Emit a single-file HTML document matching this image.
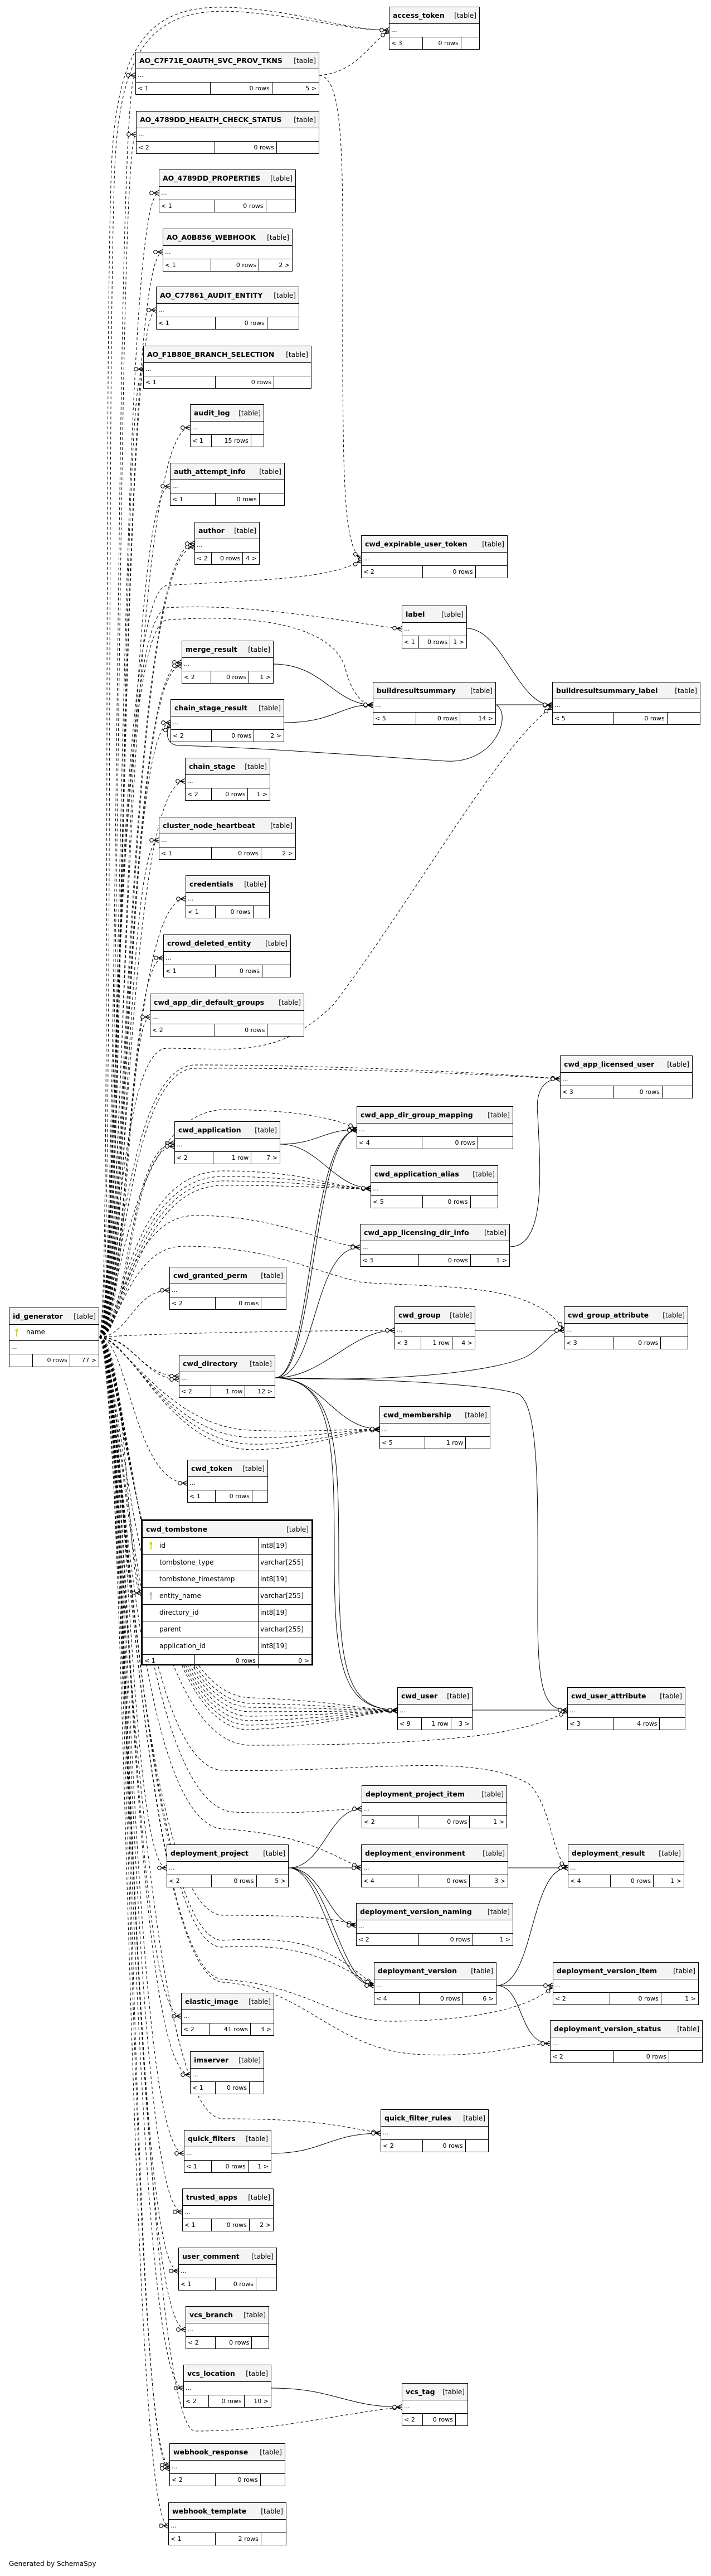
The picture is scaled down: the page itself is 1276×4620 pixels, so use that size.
<!DOCTYPE html>
<html><head><meta charset="utf-8">
<style>
html,body{margin:0;padding:0;background:#fff}
body{width:1276px;height:4620px;position:relative;overflow:hidden;font-family:"DejaVu Sans","Liberation Sans",sans-serif;font-size:11px;color:#000}
svg{position:absolute;left:0;top:0}
.b{position:absolute;border:1px solid #000;background:#fff;box-sizing:border-box;height:77px;z-index:2}
.h{height:29px;background:#f4f4f4;border-bottom:1px solid #000;display:flex;justify-content:space-between;align-items:center;padding:0 5px 0 6px;white-space:nowrap;overflow:hidden}
.h b{font-weight:bold;flex-shrink:0;font-size:12.5px}
.h i{font-style:normal;margin-left:5px;font-size:12px;overflow:hidden}
.d{height:23px;border-bottom:1px solid #000;line-height:21px;padding-left:3px}
.f{height:22px;display:flex;line-height:21px;white-space:nowrap}
.f span{box-sizing:border-box;padding:0 4px 0 3px;border-right:1px solid #000;overflow:hidden}
.f span.r{text-align:right}
.f span:last-child{border-right:none;flex:1;text-align:right}
.t{position:absolute;border:3px solid #000;background:#fff;box-sizing:border-box;z-index:2}
.t .row{height:29px;border-bottom:1px solid #000;display:flex;line-height:28px;font-size:12px}
.t .row span:first-child{width:208px;border-right:1px solid #000;padding-left:30px;box-sizing:border-box;position:relative}
.t .row span:last-child{padding-left:3px}
.key{position:absolute;left:12px;top:7px;width:5px;height:14px}
</style></head><body>

<svg width="1276" height="4620" viewBox="0 0 1276 4620">
<defs>
<marker id="m" markerWidth="22" markerHeight="12" refX="20" refY="6" orient="auto" markerUnits="userSpaceOnUse">
<path d="M11,6 L20,1.5 M11,6 L20,6 M11,6 L20,10.5" stroke="#000" stroke-width="1.2" fill="none"/>
<circle cx="7" cy="6" r="3.3" fill="#fff" stroke="#000" stroke-width="1.1"/>
</marker>
</defs>
<g fill="none" stroke="#000" stroke-width="1" stroke-dasharray="5,4" marker-end="url(#m)">
<path d="M178,2398 C215,2398 205,135 243,135"/>
<path d="M178,2398 C218,2398 208,241 244,241"/>
<path d="M178,2398 C220,2398 210,346 285,346"/>
<path d="M178,2398 C222,2398 212,452 292,452"/>
<path d="M178,2398 C224,2398 214,556 280,556"/>
<path d="M178,2398 C226,2398 214,662 257,662"/>
<path d="M178,2398 C226,2398 218,767 341,767"/>
<path d="M178,2398 C226,2398 220,872 305,872"/>
<path d="M178,2398 C226,2398 222,975 349,975"/>
<path d="M178,2398 C230,2398 222,981 349,981"/>
<path d="M178,2398 C228,2398 222,1188 326,1188"/>
<path d="M178,2398 C232,2398 222,1194 326,1194"/>
<path d="M178,2398 C230,2398 222,1296 306,1296"/>
<path d="M178,2398 C230,2398 224,1401 332,1401"/>
<path d="M178,2398 C230,2398 224,1507 285,1507"/>
<path d="M178,2398 C230,2398 226,1612 333,1612"/>
<path d="M178,2398 C230,2398 226,1718 293,1718"/>
<path d="M178,2398 C230,2398 228,1824 269,1824"/>
<path d="M178,2398 C230,2398 230,2050 313,2050"/>
<path d="M178,2398 C235,2398 230,2056 313,2056"/>
<path d="M178,2398 C230,2398 240,2314 304,2314"/>
<path d="M178,2398 C240,2398 250,2468 321,2468"/>
<path d="M178,2398 C240,2400 260,2474 321,2474"/>
<path d="M178,2398 C230,2398 240,2660 336,2660"/>
<path d="M178,2398 C228,2398 230,2857 253,2857"/>
<path d="M178,2398 C228,2398 230,3350 299,3350"/>
<path d="M178,2398 C228,2398 232,3616 325,3616"/>
<path d="M178,2398 C228,2398 232,3721 341,3721"/>
<path d="M178,2398 C228,2398 232,3862 330,3862"/>
<path d="M178,2398 C228,2398 232,3967 327,3967"/>
<path d="M178,2398 C228,2398 232,4073 320,4073"/>
<path d="M178,2398 C228,2398 232,4178 333,4178"/>
<path d="M178,2398 C228,2398 232,4283 329,4283"/>
<path d="M178,2398 C228,2398 232,4421 304,4421"/>
<path d="M178,2398 C235,2398 232,4427 304,4427"/>
<path d="M178,2398 C225,2398 230,4530 302,4530"/>
<path d="M178,2398 C200,2398 185,700 200,300 C210,60 280,0 440,15 C560,25 620,54 698,54"/>
<path d="M178,2398 C205,2398 190,700 206,300 C216,70 285,8 440,22 C560,32 620,54 698,54"/>
<path d="M573,135 C640,130 660,80 698,56"/>
<path d="M573,135 C620,140 615,300 615,600 C615,900 620,980 648,1002"/>
<path d="M178,2398 C210,2398 200,1060 300,1050 C450,1040 600,1040 648,1004"/>
<path d="M178,2398 C210,2398 200,1100 300,1090 C450,1080 650,1120 721,1128"/>
<path d="M178,2398 C210,2398 200,1120 300,1112 C450,1100 600,1120 620,1200 C630,1240 650,1265 669,1265"/>
<path d="M178,2398 C210,2398 210,1880 300,1880 C420,1880 500,1900 600,1800 C750,1600 900,1330 991,1268"/>
<path d="M178,2398 C210,2398 220,1910 350,1910 C600,1910 900,1925 1005,1935"/>
<path d="M178,2398 C215,2398 225,1918 350,1916 C600,1914 900,1928 1005,1935"/>
<path d="M178,2398 C210,2398 220,2000 400,1990 C500,1990 600,2000 640,2026"/>
<path d="M178,2398 C215,2398 230,2100 400,2100 C550,2100 600,2130 665,2132"/>
<path d="M178,2398 C218,2398 235,2110 400,2110 C550,2110 600,2130 665,2132"/>
<path d="M178,2398 C220,2398 240,2118 400,2118 C550,2118 600,2132 665,2132"/>
<path d="M178,2398 C222,2398 245,2126 400,2126 C550,2126 600,2132 665,2132"/>
<path d="M178,2398 C210,2398 230,2180 350,2180 C500,2180 580,2230 646,2237"/>
<path d="M178,2398 C210,2398 230,2235 330,2235 C480,2235 560,2280 650,2300 C800,2310 960,2300 1012,2386"/>
<path d="M178,2398 C300,2390 600,2386 708,2386"/>
<path d="M178,2398 C220,2398 300,2560 450,2565 C550,2570 620,2562 681,2564"/>
<path d="M178,2398 C225,2398 300,2575 450,2578 C550,2580 620,2564 681,2564"/>
<path d="M178,2398 C230,2398 300,2585 450,2590 C550,2592 620,2566 681,2564"/>
<path d="M178,2398 C235,2398 300,2595 450,2600 C550,2600 620,2568 681,2564"/>
<path d="M178,2398 C215,2398 250,3040 450,3045 C600,3050 650,3066 713,3068"/>
<path d="M178,2398 C218,2398 250,3050 450,3055 C600,3058 650,3066 713,3068"/>
<path d="M178,2398 C220,2398 250,3060 450,3062 C600,3064 650,3067 713,3068"/>
<path d="M178,2398 C222,2398 250,3070 450,3070 C600,3070 650,3068 713,3068"/>
<path d="M178,2398 C224,2398 250,3080 450,3078 C600,3076 650,3069 713,3068"/>
<path d="M178,2398 C226,2398 250,3090 450,3086 C600,3082 650,3070 713,3068"/>
<path d="M178,2398 C228,2398 250,3100 450,3094 C600,3088 650,3071 713,3068"/>
<path d="M178,2398 C230,2398 250,3110 450,3102 C600,3094 650,3072 713,3068"/>
<path d="M178,2398 C215,2398 240,3130 450,3130 C800,3130 950,3110 1018,3068"/>
<path d="M178,2398 C215,2398 240,3170 400,3175 C650,3180 850,3140 950,3200 C990,3240 990,3330 1019,3350"/>
<path d="M178,2398 C215,2398 240,3240 420,3250 C550,3255 600,3244 649,3244"/>
<path d="M178,2398 C215,2398 230,3270 400,3280 C550,3290 600,3330 648,3350"/>
<path d="M178,2398 C215,2398 240,3430 400,3435 C550,3435 600,3440 639,3453"/>
<path d="M178,2398 C215,2398 250,3480 400,3480 C550,3470 600,3500 671,3561"/>
<path d="M178,2398 C218,2398 250,3500 400,3492 C550,3484 600,3520 671,3561"/>
<path d="M178,2398 C215,2398 250,3540 400,3550 C550,3560 600,3625 700,3625 C850,3625 960,3600 992,3561"/>
<path d="M178,2398 C215,2398 250,3545 400,3555 C550,3565 600,3680 760,3685 C880,3690 940,3665 987,3665"/>
<path d="M178,2398 C215,2398 240,3795 400,3800 C550,3800 600,3810 683,3826"/>
<path d="M178,2398 C215,2398 250,4355 350,4360 C500,4360 600,4330 721,4317"/>
</g>
<g fill="none" stroke="#000" stroke-width="1" marker-end="url(#m)">
<path d="M838,1127 C900,1127 930,1265 991,1265"/>
<path d="M491,1191 C580,1191 600,1264 669,1264"/>
<path d="M510,1296 C600,1296 610,1264 669,1264"/>
<path d="M890,1264 L991,1264"/>
<path d="M890,1264 C920,1280 890,1370 800,1365 C650,1355 450,1340 320,1337 C298,1336 296,1310 306,1300"/>
<path d="M503,2052 C570,2052 580,2026 640,2026"/>
<path d="M503,2052 C570,2052 600,2130 665,2131"/>
<path d="M494,2471 C560,2471 555,2030 640,2027"/>
<path d="M494,2471 C565,2471 562,2028 640,2027"/>
<path d="M494,2471 C570,2471 560,2237 646,2237"/>
<path d="M494,2471 C580,2471 630,2386 708,2386"/>
<path d="M494,2471 C700,2480 900,2460 950,2430 C980,2410 990,2386 1012,2386"/>
<path d="M494,2471 C580,2471 600,2562 681,2563"/>
<path d="M494,2471 C600,2471 600,2600 600,2800 C600,3000 620,3066 713,3067"/>
<path d="M494,2471 C605,2475 608,2600 608,2800 C608,3000 625,3066 713,3067"/>
<path d="M494,2471 C800,2475 900,2490 930,2500 C970,2520 965,2700 965,2900 C965,3040 980,3066 1018,3067"/>
<path d="M915,2236 C980,2236 970,2100 965,2000 C960,1950 980,1935 1005,1935"/>
<path d="M853,2386 L1012,2386"/>
<path d="M848,3067 L1018,3067"/>
<path d="M518,3350 C580,3350 590,3244 649,3244"/>
<path d="M518,3350 L648,3350"/>
<path d="M518,3350 C580,3350 590,3453 639,3453"/>
<path d="M518,3350 C580,3350 600,3561 671,3561"/>
<path d="M518,3350 C590,3350 610,3561 671,3561"/>
<path d="M912,3350 L1019,3350"/>
<path d="M891,3561 C960,3561 950,3350 1019,3350"/>
<path d="M891,3561 L992,3561"/>
<path d="M891,3561 C940,3561 930,3665 987,3665"/>
<path d="M487,3862 C580,3862 590,3826 683,3826"/>
<path d="M487,4283 C600,4283 620,4317 721,4317"/>
</g>
</svg>

<div class="b" style="left:16px;top:2345px;width:162px;height:107px">
<div class="h"><b>id_generator</b><i>[table]</i></div>
<div style="height:28px;border-bottom:1px solid #000;line-height:27px;padding-left:30px;position:relative;font-size:12px"><svg class="key" style="left:10px;top:7px" width="6" height="14"><circle cx="3" cy="3" r="2.6" fill="#d8d800"/><rect x="2" y="4" width="2" height="10" fill="#d8d800"/></svg>name</div>
<div class="d">...</div>
<div class="f"><span style="width:26%"></span><span class="r" style="width:42%">0 rows</span><span>77 &gt;</span></div>
</div>

<div class="t" style="left:253px;top:2725px;width:309px;height:262px">
<div class="h" style="height:29px"><b>cwd_tombstone</b><i>[table]</i></div>
<div class="row"><span><svg class="key" width="6" height="14"><circle cx="3" cy="3" r="2.6" fill="#d8d800"/><rect x="2" y="4" width="2" height="10" fill="#d8d800"/></svg>id</span><span>int8[19]</span></div>
<div class="row"><span>tombstone_type</span><span>varchar[255]</span></div>
<div class="row"><span>tombstone_timestamp</span><span>int8[19]</span></div>
<div class="row"><span><svg class="key" width="6" height="14"><circle cx="3" cy="3" r="2.6" fill="#bbb"/><rect x="2" y="4" width="2" height="10" fill="#bbb"/></svg>entity_name</span><span>varchar[255]</span></div>
<div class="row"><span>directory_id</span><span>int8[19]</span></div>
<div class="row"><span>parent</span><span>varchar[255]</span></div>
<div class="row"><span>application_id</span><span>int8[19]</span></div>
<div class="f" style="height:23px"><span style="width:94px">&lt; 1</span><span class="r" style="width:114px">0 rows</span><span>0 &gt;</span></div>
</div>

<div class="b" style="left:698px;top:12px;width:163px"><div class="h"><b>access_token</b><i>[table]</i></div><div class="d">...</div><div class="f"><span style="width:37%">&lt; 3</span><span class="r" style="width:43%">0 rows</span><span></span></div></div>
<div class="b" style="left:243px;top:93px;width:330px"><div class="h"><b>AO_C7F71E_OAUTH_SVC_PROV_TKNS</b><i>[table]</i></div><div class="d">...</div><div class="f"><span style="width:41%">&lt; 1</span><span class="r" style="width:33.6%">0 rows</span><span>5 &gt;</span></div></div>
<div class="b" style="left:244px;top:199px;width:329px"><div class="h"><b>AO_4789DD_HEALTH_CHECK_STATUS</b><i>[table]</i></div><div class="d">...</div><div class="f"><span style="width:43%">&lt; 2</span><span class="r" style="width:34%">0 rows</span><span></span></div></div>
<div class="b" style="left:285px;top:304px;width:246px"><div class="h"><b>AO_4789DD_PROPERTIES</b><i>[table]</i></div><div class="d">...</div><div class="f"><span style="width:41%">&lt; 1</span><span class="r" style="width:37.5%">0 rows</span><span></span></div></div>
<div class="b" style="left:292px;top:410px;width:233px"><div class="h"><b>AO_A0B856_WEBHOOK</b><i>[table]</i></div><div class="d">...</div><div class="f"><span style="width:37.4%">&lt; 1</span><span class="r" style="width:37.1%">0 rows</span><span>2 &gt;</span></div></div>
<div class="b" style="left:280px;top:514px;width:257px"><div class="h"><b>AO_C77861_AUDIT_ENTITY</b><i>[table]</i></div><div class="d">...</div><div class="f"><span style="width:41.5%">&lt; 1</span><span class="r" style="width:36.5%">0 rows</span><span></span></div></div>
<div class="b" style="left:257px;top:620px;width:302px"><div class="h"><b>AO_F1B80E_BRANCH_SELECTION</b><i>[table]</i></div><div class="d">...</div><div class="f"><span style="width:43%">&lt; 1</span><span class="r" style="width:35%">0 rows</span><span></span></div></div>
<div class="b" style="left:341px;top:725px;width:133px"><div class="h"><b>audit_log</b><i>[table]</i></div><div class="d">...</div><div class="f"><span style="width:29%">&lt; 1</span><span class="r" style="width:54%">15 rows</span><span></span></div></div>
<div class="b" style="left:305px;top:830px;width:206px"><div class="h"><b>auth_attempt_info</b><i>[table]</i></div><div class="d">...</div><div class="f"><span style="width:39.5%">&lt; 1</span><span class="r" style="width:38.8%">0 rows</span><span></span></div></div>
<div class="b" style="left:349px;top:936px;width:117px"><div class="h"><b>author</b><i>[table]</i></div><div class="d">...</div><div class="f"><span style="width:26.4%">&lt; 2</span><span class="r" style="width:48.6%">0 rows</span><span>4 &gt;</span></div></div>
<div class="b" style="left:648px;top:960px;width:263px"><div class="h"><b>cwd_expirable_user_token</b><i>[table]</i></div><div class="d">...</div><div class="f"><span style="width:42%">&lt; 2</span><span class="r" style="width:36.4%">0 rows</span><span></span></div></div>
<div class="b" style="left:721px;top:1086px;width:117px"><div class="h"><b>label</b><i>[table]</i></div><div class="d">...</div><div class="f"><span style="width:26.4%">&lt; 1</span><span class="r" style="width:48.6%">0 rows</span><span>1 &gt;</span></div></div>
<div class="b" style="left:326px;top:1149px;width:165px"><div class="h"><b>merge_result</b><i>[table]</i></div><div class="d">...</div><div class="f"><span style="width:32%">&lt; 2</span><span class="r" style="width:41.8%">0 rows</span><span>1 &gt;</span></div></div>
<div class="b" style="left:669px;top:1223px;width:221px"><div class="h"><b>buildresultsummary</b><i>[table]</i></div><div class="d">...</div><div class="f"><span style="width:35%">&lt; 5</span><span class="r" style="width:36.3%">0 rows</span><span>14 &gt;</span></div></div>
<div class="b" style="left:991px;top:1223px;width:266px"><div class="h"><b>buildresultsummary_label</b><i>[table]</i></div><div class="d">...</div><div class="f"><span style="width:41.7%">&lt; 5</span><span class="r" style="width:36.2%">0 rows</span><span></span></div></div>
<div class="b" style="left:306px;top:1254px;width:204px"><div class="h"><b>chain_stage_result</b><i>[table]</i></div><div class="d">...</div><div class="f"><span style="width:36%">&lt; 2</span><span class="r" style="width:38%">0 rows</span><span>2 &gt;</span></div></div>
<div class="b" style="left:332px;top:1359px;width:153px"><div class="h"><b>chain_stage</b><i>[table]</i></div><div class="d">...</div><div class="f"><span style="width:31%">&lt; 2</span><span class="r" style="width:43.5%">0 rows</span><span>1 &gt;</span></div></div>
<div class="b" style="left:285px;top:1465px;width:246px"><div class="h"><b>cluster_node_heartbeat</b><i>[table]</i></div><div class="d">...</div><div class="f"><span style="width:38.4%">&lt; 1</span><span class="r" style="width:36.4%">0 rows</span><span>2 &gt;</span></div></div>
<div class="b" style="left:333px;top:1570px;width:151px"><div class="h"><b>credentials</b><i>[table]</i></div><div class="d">...</div><div class="f"><span style="width:35.5%">&lt; 1</span><span class="r" style="width:45.5%">0 rows</span><span></span></div></div>
<div class="b" style="left:293px;top:1676px;width:229px"><div class="h"><b>crowd_deleted_entity</b><i>[table]</i></div><div class="d">...</div><div class="f"><span style="width:41%">&lt; 1</span><span class="r" style="width:37%">0 rows</span><span></span></div></div>
<div class="b" style="left:269px;top:1782px;width:277px"><div class="h"><b>cwd_app_dir_default_groups</b><i>[table]</i></div><div class="d">...</div><div class="f"><span style="width:42%">&lt; 2</span><span class="r" style="width:34.5%">0 rows</span><span></span></div></div>
<div class="b" style="left:1005px;top:1893px;width:238px"><div class="h"><b>cwd_app_licensed_user</b><i>[table]</i></div><div class="d">...</div><div class="f"><span style="width:40.6%">&lt; 3</span><span class="r" style="width:36.9%">0 rows</span><span></span></div></div>
<div class="b" style="left:640px;top:1984px;width:281px"><div class="h"><b>cwd_app_dir_group_mapping</b><i>[table]</i></div><div class="d">...</div><div class="f"><span style="width:42%">&lt; 4</span><span class="r" style="width:35.7%">0 rows</span><span></span></div></div>
<div class="b" style="left:313px;top:2011px;width:190px"><div class="h"><b>cwd_application</b><i>[table]</i></div><div class="d">...</div><div class="f"><span style="width:36.5%">&lt; 2</span><span class="r" style="width:36.5%">1 row</span><span>7 &gt;</span></div></div>
<div class="b" style="left:665px;top:2090px;width:229px"><div class="h"><b>cwd_application_alias</b><i>[table]</i></div><div class="d">...</div><div class="f"><span style="width:41%">&lt; 5</span><span class="r" style="width:37.7%">0 rows</span><span></span></div></div>
<div class="b" style="left:646px;top:2195px;width:269px"><div class="h"><b>cwd_app_licensing_dir_info</b><i>[table]</i></div><div class="d">...</div><div class="f"><span style="width:39.4%">&lt; 3</span><span class="r" style="width:34.8%">0 rows</span><span>1 &gt;</span></div></div>
<div class="b" style="left:304px;top:2272px;width:210px"><div class="h"><b>cwd_granted_perm</b><i>[table]</i></div><div class="d">...</div><div class="f"><span style="width:39.5%">&lt; 2</span><span class="r" style="width:39.5%">0 rows</span><span></span></div></div>
<div class="b" style="left:708px;top:2343px;width:145px"><div class="h"><b>cwd_group</b><i>[table]</i></div><div class="d">...</div><div class="f"><span style="width:33%">&lt; 3</span><span class="r" style="width:39%">1 row</span><span>4 &gt;</span></div></div>
<div class="b" style="left:1012px;top:2343px;width:223px"><div class="h"><b>cwd_group_attribute</b><i>[table]</i></div><div class="d">...</div><div class="f"><span style="width:40%">&lt; 3</span><span class="r" style="width:38.5%">0 rows</span><span></span></div></div>
<div class="b" style="left:321px;top:2430px;width:173px"><div class="h"><b>cwd_directory</b><i>[table]</i></div><div class="d">...</div><div class="f"><span style="width:33.5%">&lt; 2</span><span class="r" style="width:35.8%">1 row</span><span>12 &gt;</span></div></div>
<div class="b" style="left:681px;top:2522px;width:199px"><div class="h"><b>cwd_membership</b><i>[table]</i></div><div class="d">...</div><div class="f"><span style="width:41%">&lt; 5</span><span class="r" style="width:37.3%">1 row</span><span></span></div></div>
<div class="b" style="left:336px;top:2618px;width:145px"><div class="h"><b>cwd_token</b><i>[table]</i></div><div class="d">...</div><div class="f"><span style="width:35%">&lt; 1</span><span class="r" style="width:46%">0 rows</span><span></span></div></div>
<div class="b" style="left:713px;top:3026px;width:135px"><div class="h"><b>cwd_user</b><i>[table]</i></div><div class="d">...</div><div class="f"><span style="width:32%">&lt; 9</span><span class="r" style="width:40%">1 row</span><span>3 &gt;</span></div></div>
<div class="b" style="left:1018px;top:3026px;width:212px"><div class="h"><b>cwd_user_attribute</b><i>[table]</i></div><div class="d">...</div><div class="f"><span style="width:39.6%">&lt; 3</span><span class="r" style="width:39.2%">4 rows</span><span></span></div></div>
<div class="b" style="left:649px;top:3202px;width:261px"><div class="h"><b>deployment_project_item</b><i>[table]</i></div><div class="d">...</div><div class="f"><span style="width:39%">&lt; 2</span><span class="r" style="width:35.7%">0 rows</span><span>1 &gt;</span></div></div>
<div class="b" style="left:299px;top:3308px;width:219px"><div class="h"><b>deployment_project</b><i>[table]</i></div><div class="d">...</div><div class="f"><span style="width:37%">&lt; 2</span><span class="r" style="width:37%">0 rows</span><span>5 &gt;</span></div></div>
<div class="b" style="left:648px;top:3308px;width:264px"><div class="h"><b>deployment_environment</b><i>[table]</i></div><div class="d">...</div><div class="f"><span style="width:39%">&lt; 4</span><span class="r" style="width:35%">0 rows</span><span>3 &gt;</span></div></div>
<div class="b" style="left:1019px;top:3308px;width:209px"><div class="h"><b>deployment_result</b><i>[table]</i></div><div class="d">...</div><div class="f"><span style="width:36.6%">&lt; 4</span><span class="r" style="width:37.4%">0 rows</span><span>1 &gt;</span></div></div>
<div class="b" style="left:639px;top:3413px;width:282px"><div class="h"><b>deployment_version_naming</b><i>[table]</i></div><div class="d">...</div><div class="f"><span style="width:40%">&lt; 2</span><span class="r" style="width:34.6%">0 rows</span><span>1 &gt;</span></div></div>
<div class="b" style="left:671px;top:3519px;width:220px"><div class="h"><b>deployment_version</b><i>[table]</i></div><div class="d">...</div><div class="f"><span style="width:37%">&lt; 4</span><span class="r" style="width:36%">0 rows</span><span>6 &gt;</span></div></div>
<div class="b" style="left:992px;top:3519px;width:262px"><div class="h"><b>deployment_version_item</b><i>[table]</i></div><div class="d">...</div><div class="f"><span style="width:39.4%">&lt; 2</span><span class="r" style="width:35.1%">0 rows</span><span>1 &gt;</span></div></div>
<div class="b" style="left:987px;top:3623px;width:274px"><div class="h"><b>deployment_version_status</b><i>[table]</i></div><div class="d">...</div><div class="f"><span style="width:42%">&lt; 2</span><span class="r" style="width:36.3%">0 rows</span><span></span></div></div>
<div class="b" style="left:325px;top:3574px;width:167px"><div class="h"><b>elastic_image</b><i>[table]</i></div><div class="d">...</div><div class="f"><span style="width:30.6%">&lt; 2</span><span class="r" style="width:44.6%">41 rows</span><span>3 &gt;</span></div></div>
<div class="b" style="left:341px;top:3679px;width:133px"><div class="h"><b>imserver</b><i>[table]</i></div><div class="d">...</div><div class="f"><span style="width:34%">&lt; 1</span><span class="r" style="width:47%">0 rows</span><span></span></div></div>
<div class="b" style="left:683px;top:3783px;width:194px"><div class="h"><b>quick_filter_rules</b><i>[table]</i></div><div class="d">...</div><div class="f"><span style="width:39%">&lt; 2</span><span class="r" style="width:40%">0 rows</span><span></span></div></div>
<div class="b" style="left:330px;top:3820px;width:157px"><div class="h"><b>quick_filters</b><i>[table]</i></div><div class="d">...</div><div class="f"><span style="width:31.6%">&lt; 1</span><span class="r" style="width:42.4%">0 rows</span><span>1 &gt;</span></div></div>
<div class="b" style="left:327px;top:3925px;width:164px"><div class="h"><b>trusted_apps</b><i>[table]</i></div><div class="d">...</div><div class="f"><span style="width:32%">&lt; 1</span><span class="r" style="width:42%">0 rows</span><span>2 &gt;</span></div></div>
<div class="b" style="left:320px;top:4031px;width:177px"><div class="h"><b>user_comment</b><i>[table]</i></div><div class="d">...</div><div class="f"><span style="width:37.6%">&lt; 1</span><span class="r" style="width:41.8%">0 rows</span><span></span></div></div>
<div class="b" style="left:333px;top:4136px;width:150px"><div class="h"><b>vcs_branch</b><i>[table]</i></div><div class="d">...</div><div class="f"><span style="width:36%">&lt; 2</span><span class="r" style="width:44%">0 rows</span><span></span></div></div>
<div class="b" style="left:329px;top:4241px;width:158px"><div class="h"><b>vcs_location</b><i>[table]</i></div><div class="d">...</div><div class="f"><span style="width:29%">&lt; 2</span><span class="r" style="width:40.6%">0 rows</span><span>10 &gt;</span></div></div>
<div class="b" style="left:721px;top:4274px;width:119px"><div class="h"><b>vcs_tag</b><i>[table]</i></div><div class="d">...</div><div class="f"><span style="width:31.5%">&lt; 2</span><span class="r" style="width:50.5%">0 rows</span><span></span></div></div>
<div class="b" style="left:304px;top:4382px;width:208px"><div class="h"><b>webhook_response</b><i>[table]</i></div><div class="d">...</div><div class="f"><span style="width:40%">&lt; 2</span><span class="r" style="width:39%">0 rows</span><span></span></div></div>
<div class="b" style="left:302px;top:4488px;width:212px"><div class="h"><b>webhook_template</b><i>[table]</i></div><div class="d">...</div><div class="f"><span style="width:40%">&lt; 1</span><span class="r" style="width:39%">2 rows</span><span></span></div></div>

<div style="position:absolute;left:16px;top:4591px;font-size:12px;white-space:nowrap">Generated by SchemaSpy</div>
</body></html>
